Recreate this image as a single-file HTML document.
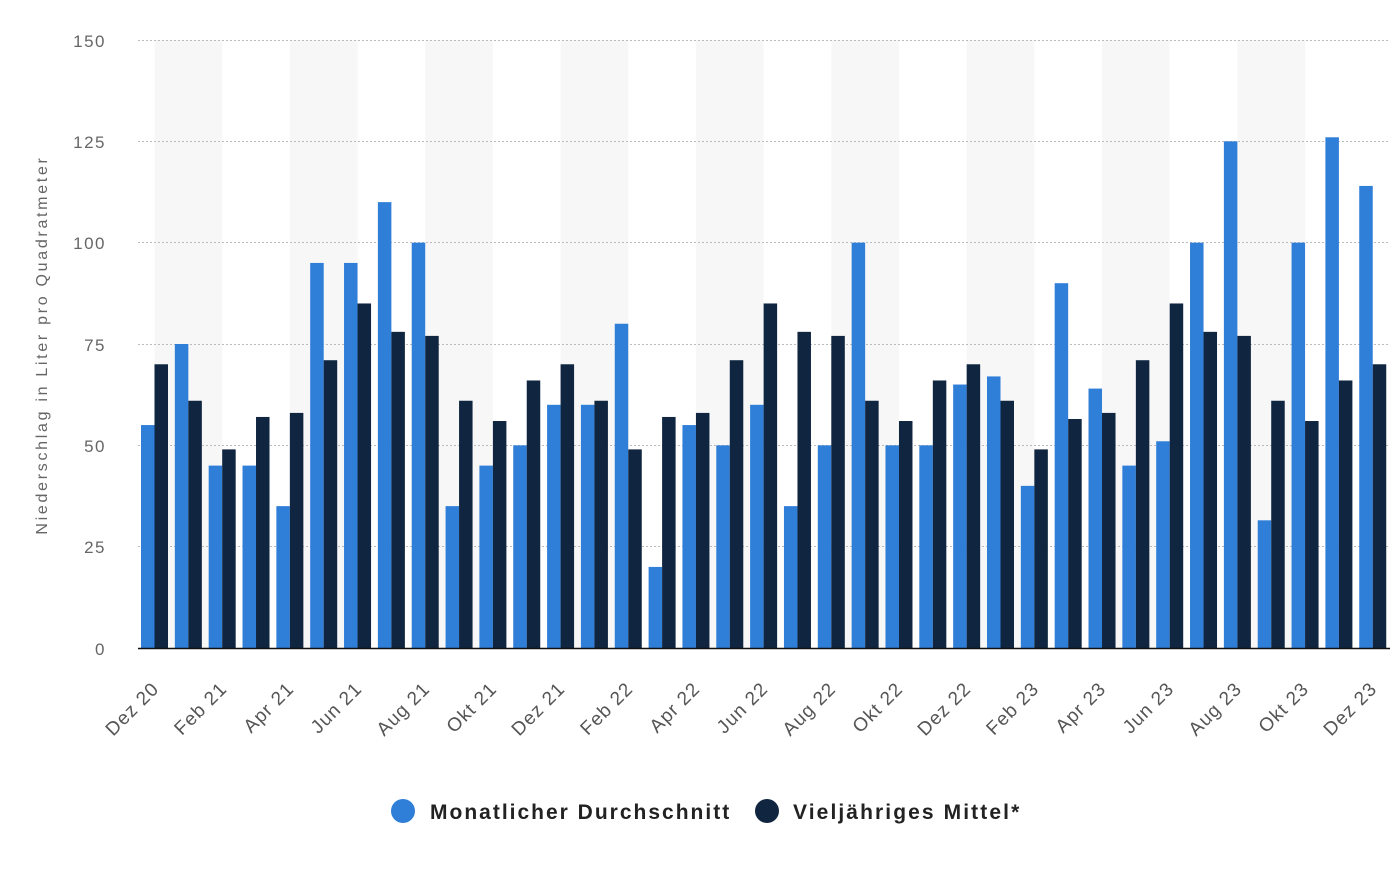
<!DOCTYPE html>
<html><head><meta charset="utf-8"><style>
body{margin:0;background:#fff;}
svg{display:block;font-family:"Liberation Sans",sans-serif;}
.a{fill:#2f7ed8;width:13.5px}
.b{fill:#0f2540;width:13.5px}
.yl{font-size:17px;fill:#666;text-anchor:end;letter-spacing:1.5px}
.xl{font-size:19px;fill:#555;text-anchor:end;letter-spacing:1px}
</style></head><body>
<svg width="1400" height="892" viewBox="0 0 1400 892">
<g fill="#f7f7f7">
<rect x="154.5" y="40" width="67.7" height="608"/>
<rect x="289.9" y="40" width="67.7" height="608"/>
<rect x="425.2" y="40" width="67.7" height="608"/>
<rect x="560.6" y="40" width="67.7" height="608"/>
<rect x="695.9" y="40" width="67.7" height="608"/>
<rect x="831.3" y="40" width="67.7" height="608"/>
<rect x="966.7" y="40" width="67.7" height="608"/>
<rect x="1102" y="40" width="67.7" height="608"/>
<rect x="1237.4" y="40" width="67.7" height="608"/>
</g>
<g stroke="#bbb" stroke-width="1" stroke-dasharray="2,2">
<line x1="138" x2="1390" y1="40.5" y2="40.5"/>
<line x1="138" x2="1390" y1="141.5" y2="141.5"/>
<line x1="138" x2="1390" y1="242.5" y2="242.5"/>
<line x1="138" x2="1390" y1="344.5" y2="344.5"/>
<line x1="138" x2="1390" y1="445.5" y2="445.5"/>
<line x1="138" x2="1390" y1="546.5" y2="546.5"/>
</g>
<g transform="translate(0,648) scale(1,-4.0533)">
<g transform="translate(141,0)"><rect class="a" height="55"/><rect class="b" x="13.5" height="70"/></g>
<g transform="translate(174.84,0)"><rect class="a" height="75"/><rect class="b" x="13.5" height="61"/></g>
<g transform="translate(208.68,0)"><rect class="a" height="45"/><rect class="b" x="13.5" height="49"/></g>
<g transform="translate(242.52,0)"><rect class="a" height="45"/><rect class="b" x="13.5" height="57"/></g>
<g transform="translate(276.36,0)"><rect class="a" height="35"/><rect class="b" x="13.5" height="58"/></g>
<g transform="translate(310.2,0)"><rect class="a" height="95"/><rect class="b" x="13.5" height="71"/></g>
<g transform="translate(344.04,0)"><rect class="a" height="95"/><rect class="b" x="13.5" height="85"/></g>
<g transform="translate(377.88,0)"><rect class="a" height="110"/><rect class="b" x="13.5" height="78"/></g>
<g transform="translate(411.72,0)"><rect class="a" height="100"/><rect class="b" x="13.5" height="77"/></g>
<g transform="translate(445.56,0)"><rect class="a" height="35"/><rect class="b" x="13.5" height="61"/></g>
<g transform="translate(479.4,0)"><rect class="a" height="45"/><rect class="b" x="13.5" height="56"/></g>
<g transform="translate(513.24,0)"><rect class="a" height="50"/><rect class="b" x="13.5" height="66"/></g>
<g transform="translate(547.08,0)"><rect class="a" height="60"/><rect class="b" x="13.5" height="70"/></g>
<g transform="translate(580.92,0)"><rect class="a" height="60"/><rect class="b" x="13.5" height="61"/></g>
<g transform="translate(614.76,0)"><rect class="a" height="80"/><rect class="b" x="13.5" height="49"/></g>
<g transform="translate(648.6,0)"><rect class="a" height="20"/><rect class="b" x="13.5" height="57"/></g>
<g transform="translate(682.44,0)"><rect class="a" height="55"/><rect class="b" x="13.5" height="58"/></g>
<g transform="translate(716.28,0)"><rect class="a" height="50"/><rect class="b" x="13.5" height="71"/></g>
<g transform="translate(750.12,0)"><rect class="a" height="60"/><rect class="b" x="13.5" height="85"/></g>
<g transform="translate(783.96,0)"><rect class="a" height="35"/><rect class="b" x="13.5" height="78"/></g>
<g transform="translate(817.8,0)"><rect class="a" height="50"/><rect class="b" x="13.5" height="77"/></g>
<g transform="translate(851.64,0)"><rect class="a" height="100"/><rect class="b" x="13.5" height="61"/></g>
<g transform="translate(885.48,0)"><rect class="a" height="50"/><rect class="b" x="13.5" height="56"/></g>
<g transform="translate(919.32,0)"><rect class="a" height="50"/><rect class="b" x="13.5" height="66"/></g>
<g transform="translate(953.16,0)"><rect class="a" height="65"/><rect class="b" x="13.5" height="70"/></g>
<g transform="translate(987,0)"><rect class="a" height="67"/><rect class="b" x="13.5" height="61"/></g>
<g transform="translate(1020.84,0)"><rect class="a" height="40"/><rect class="b" x="13.5" height="49"/></g>
<g transform="translate(1054.68,0)"><rect class="a" height="90"/><rect class="b" x="13.5" height="56.5"/></g>
<g transform="translate(1088.52,0)"><rect class="a" height="64"/><rect class="b" x="13.5" height="58"/></g>
<g transform="translate(1122.36,0)"><rect class="a" height="45"/><rect class="b" x="13.5" height="71"/></g>
<g transform="translate(1156.2,0)"><rect class="a" height="51"/><rect class="b" x="13.5" height="85"/></g>
<g transform="translate(1190.04,0)"><rect class="a" height="100"/><rect class="b" x="13.5" height="78"/></g>
<g transform="translate(1223.88,0)"><rect class="a" height="125"/><rect class="b" x="13.5" height="77"/></g>
<g transform="translate(1257.72,0)"><rect class="a" height="31.5"/><rect class="b" x="13.5" height="61"/></g>
<g transform="translate(1291.56,0)"><rect class="a" height="100"/><rect class="b" x="13.5" height="56"/></g>
<g transform="translate(1325.4,0)"><rect class="a" height="126"/><rect class="b" x="13.5" height="66"/></g>
<g transform="translate(1359.24,0)"><rect class="a" height="114"/><rect class="b" x="13.5" height="70"/></g>
</g>
<line x1="138" x2="1390" y1="648.5" y2="648.5" stroke="#111" stroke-width="1.5"/>
<g class="yl">
<text x="106" y="47">150</text>
<text x="106" y="148">125</text>
<text x="106" y="249">100</text>
<text x="106" y="351">75</text>
<text x="106" y="452">50</text>
<text x="106" y="553">25</text>
<text x="106" y="655">0</text>
</g>
<text transform="translate(47,345) rotate(-90)" text-anchor="middle" font-size="16" fill="#666" letter-spacing="2.7">Niederschlag in Liter pro Quadratmeter</text>
<g class="xl">
<text transform="translate(160,690) rotate(-45)">Dez 20</text>
<text transform="translate(228,690) rotate(-45)">Feb 21</text>
<text transform="translate(295,690) rotate(-45)">Apr 21</text>
<text transform="translate(363,690) rotate(-45)">Jun 21</text>
<text transform="translate(431,690) rotate(-45)">Aug 21</text>
<text transform="translate(498,690) rotate(-45)">Okt 21</text>
<text transform="translate(566,690) rotate(-45)">Dez 21</text>
<text transform="translate(634,690) rotate(-45)">Feb 22</text>
<text transform="translate(701,690) rotate(-45)">Apr 22</text>
<text transform="translate(769,690) rotate(-45)">Jun 22</text>
<text transform="translate(837,690) rotate(-45)">Aug 22</text>
<text transform="translate(904,690) rotate(-45)">Okt 22</text>
<text transform="translate(972,690) rotate(-45)">Dez 22</text>
<text transform="translate(1040,690) rotate(-45)">Feb 23</text>
<text transform="translate(1107,690) rotate(-45)">Apr 23</text>
<text transform="translate(1175,690) rotate(-45)">Jun 23</text>
<text transform="translate(1243,690) rotate(-45)">Aug 23</text>
<text transform="translate(1310,690) rotate(-45)">Okt 23</text>
<text transform="translate(1378,690) rotate(-45)">Dez 23</text>
</g>
<circle cx="403" cy="811" r="12" fill="#2f7ed8"/>
<text x="430" y="819" font-size="21" font-weight="bold" fill="#222" letter-spacing="2">Monatlicher Durchschnitt</text>
<circle cx="767" cy="811" r="12" fill="#0f2540"/>
<text x="793" y="819" font-size="21" font-weight="bold" fill="#222" letter-spacing="2.1">Vieljähriges Mittel*</text>
</svg>
</body></html>
